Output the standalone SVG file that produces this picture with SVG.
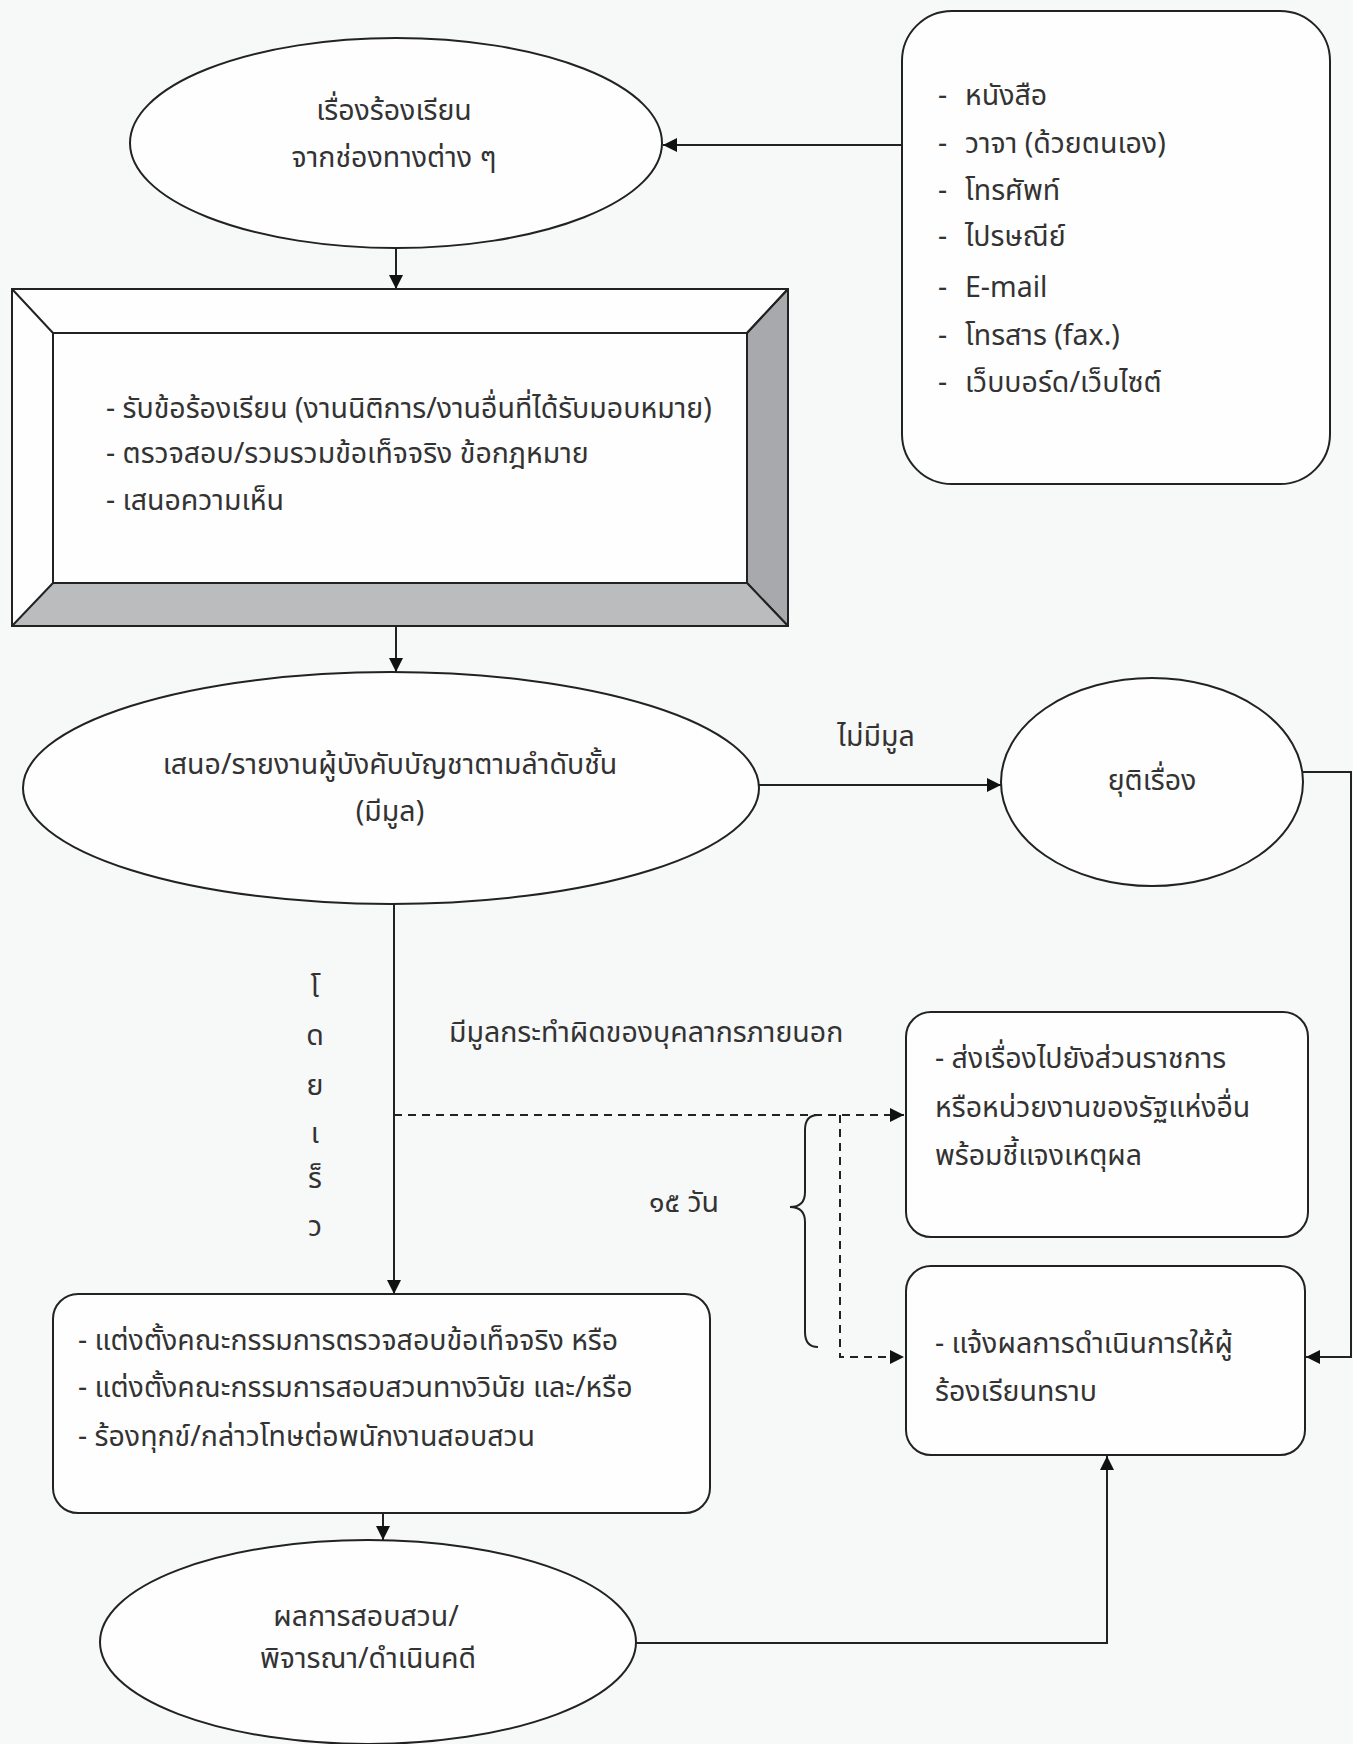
<svg xmlns="http://www.w3.org/2000/svg" width="1353" height="1744" viewBox="0 0 1353 1744">
<defs>
<style>
.bg{fill:#f7f8f8}
.shape{fill:#fefefe;stroke:#222;stroke-width:2}
.t{font-family:"Noto Sans Thai","Noto Sans",sans-serif;font-size:28.5px;fill:#333}
.c{text-anchor:middle}
.ln{fill:none;stroke:#222;stroke-width:2}
.dash{fill:none;stroke:#222;stroke-width:2;stroke-dasharray:8 6}
.bev{stroke:#222;stroke-width:2;stroke-linejoin:round}
</style>
<marker id="ah" viewBox="0 0 10 10" refX="10" refY="5" markerWidth="14" markerHeight="14" markerUnits="userSpaceOnUse" orient="auto">
<path d="M0,0 L10,5 L0,10 Z" fill="#111"/>
</marker>
</defs>
<rect class="bg" x="0" y="0" width="1353" height="1744"/>

<g id="connectors">
<path class="ln" d="M902,145 H663" marker-end="url(#ah)"/>
<path class="ln" d="M396,248 V289" marker-end="url(#ah)"/>
<path class="ln" d="M396,626 V672" marker-end="url(#ah)"/>
<path class="ln" d="M759,785 H1001" marker-end="url(#ah)"/>
<path class="ln" d="M394,904 V1294" marker-end="url(#ah)"/>
<path class="dash" d="M394,1115 H904" marker-end="url(#ah)"/>
<path class="dash" d="M840,1115 V1357 H904" marker-end="url(#ah)"/>
<path class="ln" d="M1303,772 H1351 V1357 H1306" marker-end="url(#ah)"/>
<path class="ln" d="M383,1513 V1540" marker-end="url(#ah)"/>
<path class="ln" d="M636,1643 H1107 V1456" marker-end="url(#ah)"/>
<path class="ln" d="M818,1115 Q805,1115 805,1130 L805,1192 Q805,1207 790,1207 Q805,1207 805,1222 L805,1332 Q805,1347 818,1347"/>
<text class="t" x="876" y="746" text-anchor="middle">ไม่มีมูล</text>
<text class="t" x="449" y="1042">มีมูลกระทำผิดของบุคลากรภายนอก</text>
<text class="t" x="684" y="1212" text-anchor="middle">๑๕ วัน</text>
<g class="t" text-anchor="middle">
<text x="315" y="997">โ</text>
<text x="315" y="1045">ด</text>
<text x="315" y="1095">ย</text>
<text x="315" y="1143">เ</text>
<text x="315" y="1188">ร็</text>
<text x="315" y="1236">ว</text>
</g>
</g>

<g id="n-complaint">
<ellipse class="shape" cx="396" cy="143" rx="266" ry="105"/>
<text class="t c" x="394" y="120">เรื่องร้องเรียน</text>
<text class="t c" x="394" y="167">จากช่องทางต่าง ๆ</text>
</g>

<g id="n-channels">
<rect class="shape" x="902" y="11" width="428" height="473" rx="50" ry="50"/>
<text class="t" y="105"><tspan x="938">-</tspan><tspan x="965">หนังสือ</tspan></text>
<text class="t" y="153"><tspan x="938">-</tspan><tspan x="965">วาจา (ด้วยตนเอง)</tspan></text>
<text class="t" y="200"><tspan x="938">-</tspan><tspan x="965">โทรศัพท์</tspan></text>
<text class="t" y="246"><tspan x="938">-</tspan><tspan x="965">ไปรษณีย์</tspan></text>
<text class="t" y="297"><tspan x="938">-</tspan><tspan x="965">E-mail</tspan></text>
<text class="t" y="345"><tspan x="938">-</tspan><tspan x="965">โทรสาร (fax.)</tspan></text>
<text class="t" y="392"><tspan x="938">-</tspan><tspan x="965">เว็บบอร์ด/เว็บไซต์</tspan></text>
</g>

<g id="n-receive">
<rect x="12" y="289" width="776" height="337" fill="#fefefe"/>
<polygon class="bev" points="788,289 788,626 747,583 747,333" fill="#a7a9ac"/>
<polygon class="bev" points="12,626 788,626 747,583 53,583" fill="#babcbe"/>
<rect x="12" y="289" width="776" height="337" fill="none" stroke="#222" stroke-width="2"/>
<rect x="53" y="333" width="694" height="250" fill="#fefefe" stroke="#222" stroke-width="2"/>
<path class="ln" d="M12,289 L53,333 M788,289 L747,333"/>
<text class="t" x="106" y="418">- รับข้อร้องเรียน (งานนิติการ/งานอื่นที่ได้รับมอบหมาย)</text>
<text class="t" x="106" y="463">- ตรวจสอบ/รวมรวมข้อเท็จจริง ข้อกฎหมาย</text>
<text class="t" x="106" y="510">- เสนอความเห็น</text>
</g>

<g id="n-report">
<ellipse class="shape" cx="391" cy="788" rx="368" ry="116"/>
<text class="t c" x="390" y="774">เสนอ/รายงานผู้บังคับบัญชาตามลำดับชั้น</text>
<text class="t c" x="390" y="821">(มีมูล)</text>
</g>

<g id="n-terminate">
<ellipse class="shape" cx="1152" cy="782" rx="151" ry="104"/>
<text class="t c" x="1152" y="790">ยุติเรื่อง</text>
</g>

<g id="n-forward">
<rect class="shape" x="906" y="1012" width="402" height="225" rx="25" ry="25"/>
<text class="t" x="935" y="1068">- ส่งเรื่องไปยังส่วนราชการ</text>
<text class="t" x="935" y="1117">หรือหน่วยงานของรัฐแห่งอื่น</text>
<text class="t" x="935" y="1165">พร้อมชี้แจงเหตุผล</text>
</g>

<g id="n-notify">
<rect class="shape" x="906" y="1266" width="399" height="189" rx="25" ry="25"/>
<text class="t" x="935" y="1353">- แจ้งผลการดำเนินการให้ผู้</text>
<text class="t" x="935" y="1401">ร้องเรียนทราบ</text>
</g>

<g id="n-committee">
<rect class="shape" x="53" y="1294" width="657" height="219" rx="25" ry="25"/>
<text class="t" x="78" y="1350">- แต่งตั้งคณะกรรมการตรวจสอบข้อเท็จจริง หรือ</text>
<text class="t" x="78" y="1397">- แต่งตั้งคณะกรรมการสอบสวนทางวินัย และ/หรือ</text>
<text class="t" x="78" y="1446">- ร้องทุกข์/กล่าวโทษต่อพนักงานสอบสวน</text>
</g>

<g id="n-result">
<ellipse class="shape" cx="368" cy="1642" rx="268" ry="102"/>
<text class="t c" x="366" y="1626">ผลการสอบสวน/</text>
<text class="t c" x="368" y="1668">พิจารณา/ดำเนินคดี</text>
</g>
</svg>
